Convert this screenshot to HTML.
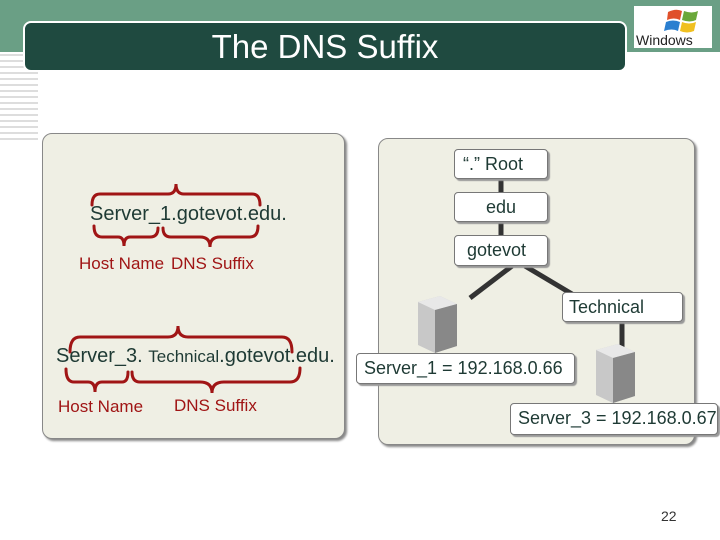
<!DOCTYPE html>
<html><head><meta charset="utf-8"><style>
body{margin:0;width:720px;height:540px;overflow:hidden;background:#fff;font-family:"Liberation Sans",sans-serif;position:relative}
.a{position:absolute;white-space:nowrap}
.box{position:absolute;background:#fff;border:1px solid #777;border-radius:4px;box-shadow:2px 2px 1px #999;font-size:18px;color:#1e3a34;box-sizing:border-box;line-height:28px;white-space:nowrap;overflow:visible}
</style></head><body>
<div class="a" style="left:0;top:0;width:720px;height:52px;background:#6a9f85"></div>
<svg class="a" style="left:0;top:52px" width="38" height="488">
<g stroke="#bbb" stroke-width="1">
<line x1="0" y1="3" x2="38" y2="3"/><line x1="0" y1="9" x2="38" y2="9"/><line x1="0" y1="15" x2="38" y2="15"/><line x1="0" y1="21" x2="38" y2="21"/><line x1="0" y1="27" x2="38" y2="27"/><line x1="0" y1="33" x2="38" y2="33"/><line x1="0" y1="39" x2="38" y2="39"/><line x1="0" y1="45" x2="38" y2="45"/><line x1="0" y1="51" x2="38" y2="51"/><line x1="0" y1="57" x2="38" y2="57"/><line x1="0" y1="63" x2="38" y2="63"/><line x1="0" y1="69" x2="38" y2="69"/><line x1="0" y1="75" x2="38" y2="75"/><line x1="0" y1="81" x2="38" y2="81"/><line x1="0" y1="87" x2="38" y2="87"/>
</g></svg>
<div class="a" style="left:23px;top:21px;width:604px;height:51px;background:#1f4a40;border:2px solid #fff;border-radius:8px;box-sizing:border-box;color:#fff;font-size:33px;text-align:center;line-height:48px">The DNS Suffix</div>
<div class="a" style="left:634px;top:6px;width:78px;height:42px;background:#fff"></div>
<svg class="a" style="left:664px;top:8px" width="40" height="26"><path d="M4 4 Q12 0 18 3 L16 12 Q10 9 3 12Z" fill="#e0502a"/><path d="M20 3 Q28 6 34 3 L32 12 Q26 15 18 12Z" fill="#6aa83a"/><path d="M2 14 Q9 11 16 14 L14 23 Q8 20 0 23Z" fill="#2a7fd0"/><path d="M18 14 Q25 17 32 14 L30 23 Q23 26 16 23Z" fill="#f0c020"/></svg>
<div class="a" style="left:636px;top:32px;font-size:14px;color:#222">Windows</div>

<div class="a" style="left:42px;top:133px;width:301px;height:304px;background:#efefe4;border:1px solid #888;border-radius:10px;box-shadow:2px 2px 2px #888"></div>
<div class="a" style="left:378px;top:138px;width:315px;height:305px;background:#efefe4;border:1px solid #888;border-radius:10px;box-shadow:2px 2px 2px #888"></div>

<svg class="a" style="left:0;top:0" width="720" height="540">
<g stroke="#333" stroke-width="5" fill="none">
<line x1="501" y1="179" x2="501" y2="192"/><line x1="501" y1="222" x2="501" y2="235"/>
<line x1="512" y1="266" x2="470" y2="298"/><line x1="525" y1="266" x2="572" y2="294"/>
<line x1="622" y1="322" x2="622" y2="350"/>
</g>
<g stroke="#a01515" stroke-width="3" fill="none" stroke-linecap="round">
<path d="M92 205 Q92 194 100 194 L168 194 Q176 194 176 184 Q176 194 184 194 L252 194 Q260 194 260 205"/>
<path d="M94 226 Q94 237 102 237 L118 237 Q124 237 124 246 Q124 237 130 237 L150 237 Q158 237 158 228"/>
<path d="M163 228 Q163 237 171 237 L200 237 Q210 237 210 247 Q210 237 220 237 L250 237 Q258 237 258 226"/>
<path d="M70 352 Q70 337 80 337 L168 337 Q178 337 178 326 Q178 337 188 337 L282 337 Q292 337 292 352"/>
<path d="M66 369 Q66 382 74 382 L88 382 Q95 382 95 392 Q95 382 102 382 L122 382 Q128 382 128 372"/>
<path d="M132 372 Q132 382 140 382 L200 382 Q212 382 212 393 Q212 382 224 382 L290 382 Q300 382 300 368"/>
</g>
<g>
<path d="M418 302 L440 296 L457 304 L457 346 L435 353 L418 345Z" fill="#c8c8c8"/>
<path d="M418 302 L440 296 L457 304 L435 310Z" fill="#e8e8e8"/>
<path d="M435 310 L457 304 L457 346 L435 353Z" fill="#888"/>
<path d="M596 350 L618 344 L635 352 L635 396 L613 403 L596 395Z" fill="#c8c8c8"/>
<path d="M596 350 L618 344 L635 352 L613 358Z" fill="#e8e8e8"/>
<path d="M613 358 L635 352 L635 396 L613 403Z" fill="#888"/>
</g>
</svg>

<div class="a" style="left:90px;top:203px;font-size:20px;color:#1e3a34">Server_1.gotevot.edu.</div>
<div class="a" style="left:79px;top:254px;font-size:17px;color:#a01515">Host Name</div>
<div class="a" style="left:171px;top:254px;font-size:17px;color:#a01515">DNS Suffix</div>
<div class="a" style="left:56px;top:345px;font-size:20px;color:#1e3a34">Server_3. <span style="font-size:17px">Technical</span>.gotevot.edu.</div>
<div class="a" style="left:58px;top:397px;font-size:17px;color:#a01515">Host Name</div>
<div class="a" style="left:174px;top:396px;font-size:17px;color:#a01515">DNS Suffix</div>

<div class="box" style="left:454px;top:149px;width:94px;height:30px;padding-left:8px">“.” Root</div>
<div class="box" style="left:454px;top:192px;width:94px;height:30px;text-align:center">edu</div>
<div class="box" style="left:454px;top:235px;width:94px;height:31px;padding-left:12px">gotevot</div>
<div class="box" style="left:562px;top:292px;width:121px;height:30px;padding-left:6px">Technical</div>
<div class="box" style="left:356px;top:353px;width:219px;height:31px;padding-left:7px">Server_1 = 192.168.0.66</div>
<div class="box" style="left:510px;top:403px;width:208px;height:32px;padding-left:7px">Server_3 = 192.168.0.67</div>
<div class="a" style="left:661px;top:508px;font-size:14px;color:#333">22</div>
</body></html>
